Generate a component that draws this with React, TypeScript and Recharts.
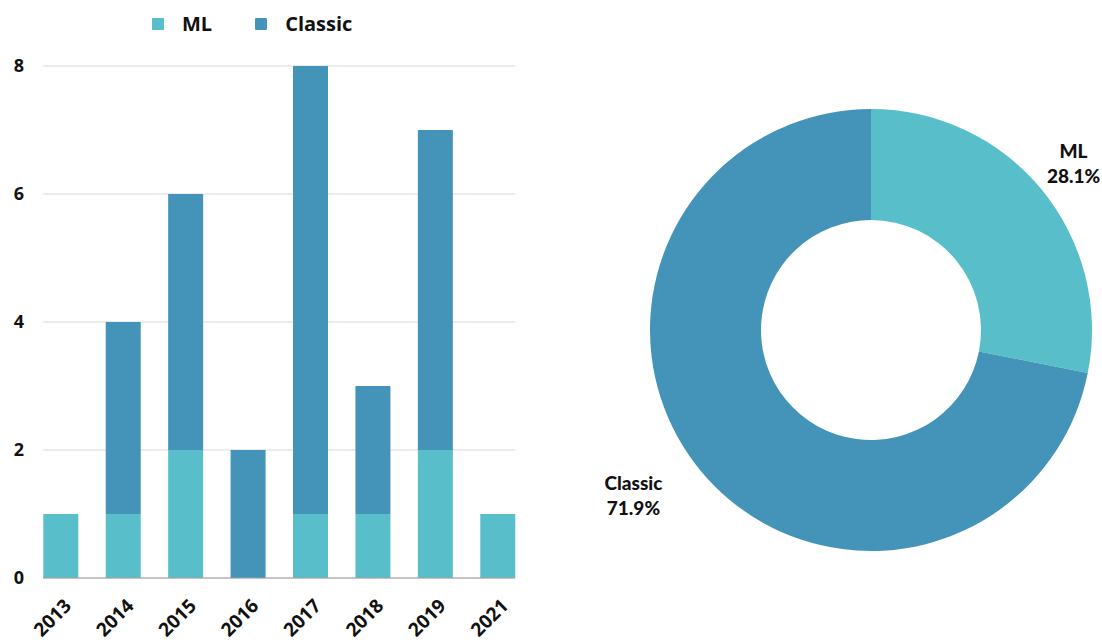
import React from 'react';
import { BarChart, Bar, XAxis, YAxis, CartesianGrid, PieChart, Pie, Cell } from 'recharts';

const years = ['2013', '2014', '2015', '2016', '2017', '2018', '2019', '2021'];
const mlCounts = [1, 1, 2, 0, 1, 1, 2, 1];
const classicCounts = [0, 3, 4, 2, 7, 2, 5, 0];
const yTicks = [0, 2, 4, 6, 8];
const shareNames = ['ML', 'Classic'];
const shareLabels = ['28.1%', '71.9%'];

const ML_COLOR = '#58bfca';
const CLASSIC_COLOR = '#4394b8';
const FONT = '"Open Sans", sans-serif';

const barData = years.map((year, i) => ({ year, ml: mlCounts[i], classic: classicCounts[i] }));
const pieData = shareNames.map((name, i) => ({
  name,
  value: name === 'ML' ? mlCounts.reduce((a, b) => a + b, 0) : classicCounts.reduce((a, b) => a + b, 0),
  label: shareLabels[i],
}));

const YTick = ({ x, y, payload }: any) => (
  <text x={x - 16} y={y} dy={6} textAnchor="middle" fontFamily={FONT} fontWeight={700} fontSize={18} fill="#111">
    {payload.value}
  </text>
);

const XTick = ({ x, y, payload }: any) => {
  const ax = x + 12;
  const ay = y + 21;
  return (
    <text
      x={ax}
      y={ay}
      textAnchor="end"
      transform={`rotate(-45, ${ax}, ${ay})`}
      fontFamily={FONT}
      fontWeight={700}
      fontSize={19}
      fill="#111"
    >
      {payload.value}
    </text>
  );
};

const LegendBox = () => (
  <div
    style={{
      position: 'absolute',
      left: 152,
      top: 10,
      display: 'flex',
      alignItems: 'center',
      fontFamily: FONT,
      fontWeight: 700,
      fontSize: 20,
      lineHeight: '28px',
      color: '#111',
    }}
  >
    {[['ML', ML_COLOR], ['Classic', CLASSIC_COLOR]].map(([name, color], i) => (
      <div key={name} style={{ display: 'flex', alignItems: 'center', marginLeft: i === 0 ? 0 : 43 }}>
        <span style={{ width: 12, height: 12, background: color, borderRadius: 1, display: 'inline-block', marginRight: 18 }} />
        <span>{name}</span>
      </div>
    ))}
  </div>
);

const RADIAN = Math.PI / 180;
const PieLabel = ({ cx, cy, midAngle, payload }: any) => {
  const r = 262;
  const ax = cx + r * Math.cos(-midAngle * RADIAN);
  const y = cy + r * Math.sin(-midAngle * RADIAN);
  // left-side label hangs off its anchor point, right-side one is centred on it
  const x = ax < cx ? ax - 35 : ax;
  return (
    <text x={x} y={y} textAnchor="middle" fontFamily="Lato, sans-serif" fontWeight={900} fontSize={19} fill="#111">
      <tspan x={x} dy={-6}>{payload.name}</tspan>
      <tspan x={x} dy={25}>{payload.label}</tspan>
    </text>
  );
};

const App: React.FC = () => {
  return (
    <div style={{ position: 'absolute', left: 0, top: 0, width: 1102, height: 644, background: '#fff' }}>
      <div style={{ position: 'absolute', left: 0, top: 0 }}>
        <BarChart width={540} height={644} data={barData} margin={{ top: 66, right: 25, left: 0, bottom: 0 }} barSize={35}>
          <CartesianGrid vertical={false} stroke="#d9d9d9" />
          <XAxis
            dataKey="year"
            height={66}
            padding={{ left: -13.7, right: -13.7 }}
            axisLine={{ stroke: '#9e9e9e' }}
            tickLine={false}
            interval={0}
            tick={<XTick />}
          />
          <YAxis width={43} domain={[0, 8]} ticks={yTicks} axisLine={false} tickLine={false} tick={<YTick />} />
          <Bar dataKey="ml" stackId="a" fill={ML_COLOR} isAnimationActive={false} />
          <Bar dataKey="classic" stackId="a" fill={CLASSIC_COLOR} isAnimationActive={false} />
        </BarChart>
        <LegendBox />
      </div>
      <div style={{ position: 'absolute', left: 540, top: 0 }}>
        <PieChart width={562} height={644} margin={{ top: 0, right: 0, bottom: 0, left: 0 }}>
          <Pie
            data={pieData}
            dataKey="value"
            cx={331}
            cy={330}
            innerRadius={110}
            outerRadius={221}
            startAngle={90}
            endAngle={-270}
            stroke="none"
            label={<PieLabel />}
            labelLine={false}
            isAnimationActive={false}
          >
            {pieData.map((d) => (
              <Cell key={d.name} fill={d.name === 'ML' ? ML_COLOR : CLASSIC_COLOR} />
            ))}
          </Pie>
        </PieChart>
      </div>
    </div>
  );
};

export default App;
